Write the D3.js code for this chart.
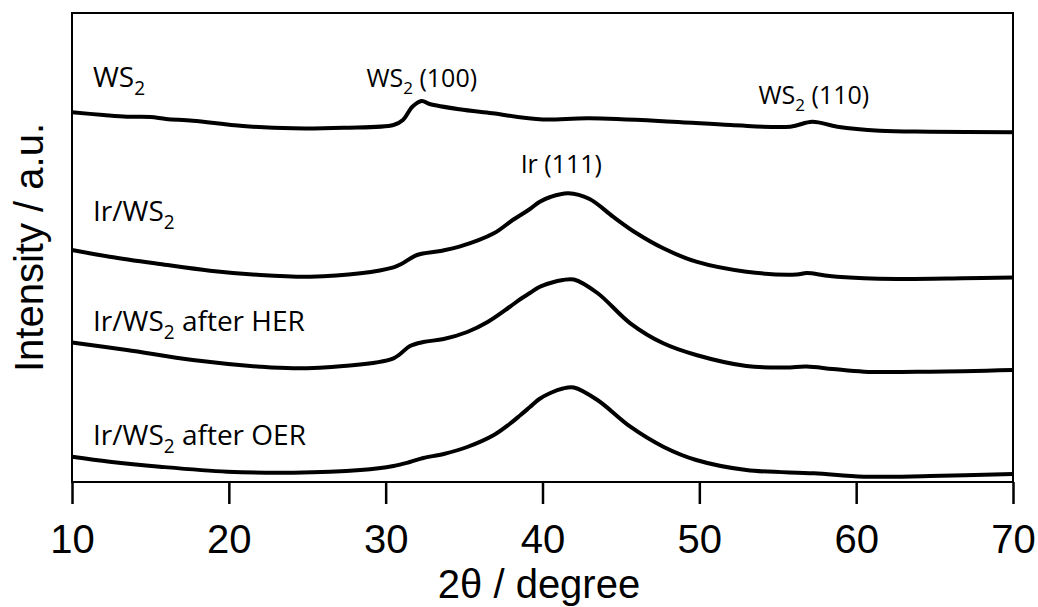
<!DOCTYPE html>
<html>
<head>
<meta charset="utf-8">
<script src="https://cdn.jsdelivr.net/npm/d3@7"></script>
<style>
  body { margin: 0; background: #fff; }
  svg { display: block; }
</style>
</head>
<body>
<svg id="chart"></svg>
<script>
// 2θ positions and intensities (a.u., already stacked)
const ws2X = [10, 12, 13.5, 15, 16, 17.7, 20.9, 24.1, 27.3, 30.5, 31.1, 31.7, 32.3, 32.8, 34.7, 36.8, 39.8, 43.0, 48.3, 52.0, 55.8, 57.2, 58.8, 61.5, 64.7, 70];
const ws2Y = [369.7, 367, 365.3, 365, 363, 361.3, 356, 353.7, 354.3, 357, 362, 375.3, 381, 378, 372.7, 368.7, 362.7, 363.7, 360.3, 357, 355.3, 360.3, 355.3, 351.3, 350.3, 349.7];

const irX = [10, 12.4, 15.6, 18.8, 22.0, 25.2, 28.4, 30.5, 31.0, 32.0, 33.5, 34.7, 36.9, 38.1, 39.2, 39.8, 40.5, 41.65, 43.0, 44.5, 46.0, 47.7, 49.8, 53.0, 56.2, 56.85, 58.3, 60.5, 62.6, 66.8, 70];
const irY = [232, 225.3, 218, 211.3, 207, 205.3, 208.7, 214.7, 218, 227, 231, 235.3, 248.7, 262, 273, 280, 285, 288.7, 283, 265.3, 248.7, 233.7, 220.3, 210.3, 207.5, 209, 206, 203.7, 203, 203.7, 204.5];

const herX = [10, 13.5, 17.7, 22.0, 24.1, 27.3, 30.5, 31.55, 32.4, 33.7, 35.2, 36.5, 37.9, 38.6, 39.2, 39.8, 40.5, 41.3, 42.0, 43.5, 45.6, 47.7, 49.8, 53.0, 55.5, 56.85, 58.5, 60.5, 64.7, 70];
const herY = [139.5, 132, 122, 115.3, 113.7, 116, 123.7, 136, 140, 143, 150, 160, 175, 183, 189, 195, 199, 202, 202.5, 189, 158.7, 138.7, 127, 116, 114.5, 115.5, 113, 110.3, 110.3, 112];

const oerX = [10, 12.4, 15.6, 19.9, 24.1, 28.4, 30.5, 31.55, 32.4, 33.7, 35.2, 36.9, 37.9, 38.6, 39.2, 39.8, 40.5, 41.3, 42.0, 43.5, 45.6, 47.7, 49.8, 53.0, 57.3, 60.5, 64.7, 70];
const oerY = [25.3, 20.3, 15.3, 10.3, 9.3, 12, 16, 20, 24, 28, 35, 47, 58, 67, 75, 83, 89, 93.5, 94.5, 82, 55.3, 35.3, 22, 12, 8.7, 5.3, 6, 8];

const xTicks = [10, 20, 30, 40, 50, 60, 70];

// sample names: [main text, subscript, trailing text]
const sampleNames = [
  ["Ir/WS", "2", ""],
  ["WS", "2", ""],
  ["Ir/WS", "2", " after HER"],
  ["Ir/WS", "2", " after OER"],
];
// label anchors in data units (2θ, intensity)
const sampleLabelX = [11.34, 11.34, 11.34, 11.34];
const sampleLabelY = [261, 395, 151, 37];

const peakNames = [
  ["WS", "2", " (100)"],
  ["WS", "2", " (110)"],
  ["Ir (111)", "", ""],
];
const peakLabelX = [32.3, 57.3, 41.2];
const peakLabelY = [395, 378, 309];

const series = [
  { x: ws2X, y: ws2Y },
  { x: irX, y: irY },
  { x: herX, y: herY },
  { x: oerX, y: oerY },
];

const W = 1038;
const H = 607;
const margin = { top: 13, right: 25, bottom: 125, left: 72 };
const width = W - margin.left - margin.right;
const height = H - margin.top - margin.bottom;

const svg = d3.select("#chart").attr("width", W).attr("height", H);
const g = svg.append("g").attr("transform", "translate(" + margin.left + "," + margin.top + ")");

const xScale = d3.scaleLinear().domain([10, 70]).range([0, width]);
const yScale = d3.scaleLinear().domain([0, height]).range([height, 0]);

// patterns
const line = d3
  .line()
  .x((d) => xScale(d[0]))
  .y((d) => yScale(d[1]))
  .curve(d3.curveCatmullRom.alpha(0.5));

g.selectAll(".pattern")
  .data(series)
  .enter()
  .append("path")
  .attr("class", "pattern")
  .attr("fill", "none")
  .attr("stroke", "#000")
  .attr("stroke-width", 4)
  .attr("stroke-linejoin", "round")
  .attr("d", (s) => {
    return line(s.x.map((v, i) => [v, s.y[i]]));
  });

// frame
g.append("rect")
  .attr("x", 0)
  .attr("y", 0)
  .attr("width", width)
  .attr("height", height)
  .attr("fill", "none")
  .attr("stroke", "#000")
  .attr("stroke-width", 2);

const xAxis = d3.axisBottom(xScale).tickValues(xTicks).tickSize(22).tickSizeOuter(0).tickPadding(10);

const xg = g.append("g").attr("class", "x axis").attr("transform", "translate(0," + height + ")").call(xAxis);
xg.select(".domain").remove();
xg.selectAll(".tick line").attr("stroke", "#000").attr("stroke-width", 2.5);
xg.selectAll(".tick text")
  .attr("fill", "#000")
  .attr("font-family", "'Liberation Sans', Arial, sans-serif")
  .attr("font-size", 40)
  .attr("dy", null)
  .attr("y", 71);

g.append("text")
  .attr("x", 467)
  .attr("y", height + 116)
  .attr("text-anchor", "middle")
  .attr("font-family", "'Liberation Sans', Arial, sans-serif")
  .attr("font-size", 40)
  .text("2θ / degree");

svg.append("text")
  .attr("transform", "translate(43," + (margin.top + height / 2) + ") rotate(-90)")
  .attr("text-anchor", "middle")
  .attr("font-family", "'Liberation Sans', Arial, sans-serif")
  .attr("font-size", 40)
  .text("Intensity / a.u.");

function addLabel(parts, x, y, size, anchor) {
  const t = g.append("text")
    .attr("x", xScale(x))
    .attr("y", yScale(y))
    .attr("text-anchor", anchor)
    .attr("font-family", "'Open Sans', 'Noto Sans', sans-serif")
    .attr("font-size", size)
    .attr("fill", "#000");
  t.append("tspan").text(parts[0]);
  if (parts[1]) {
    t.append("tspan").attr("dy", size * 0.28).attr("font-size", size * 0.68).text(parts[1]);
    t.append("tspan").attr("dy", -size * 0.28).text(parts[2]);
  }
}

sampleNames.forEach((p, i) => {
  addLabel(p, sampleLabelX[i], sampleLabelY[i], 28, "start");
});
peakNames.forEach((p, i) => {
  addLabel(p, peakLabelX[i], peakLabelY[i], 25, "middle");
});
</script>
</body>
</html>
